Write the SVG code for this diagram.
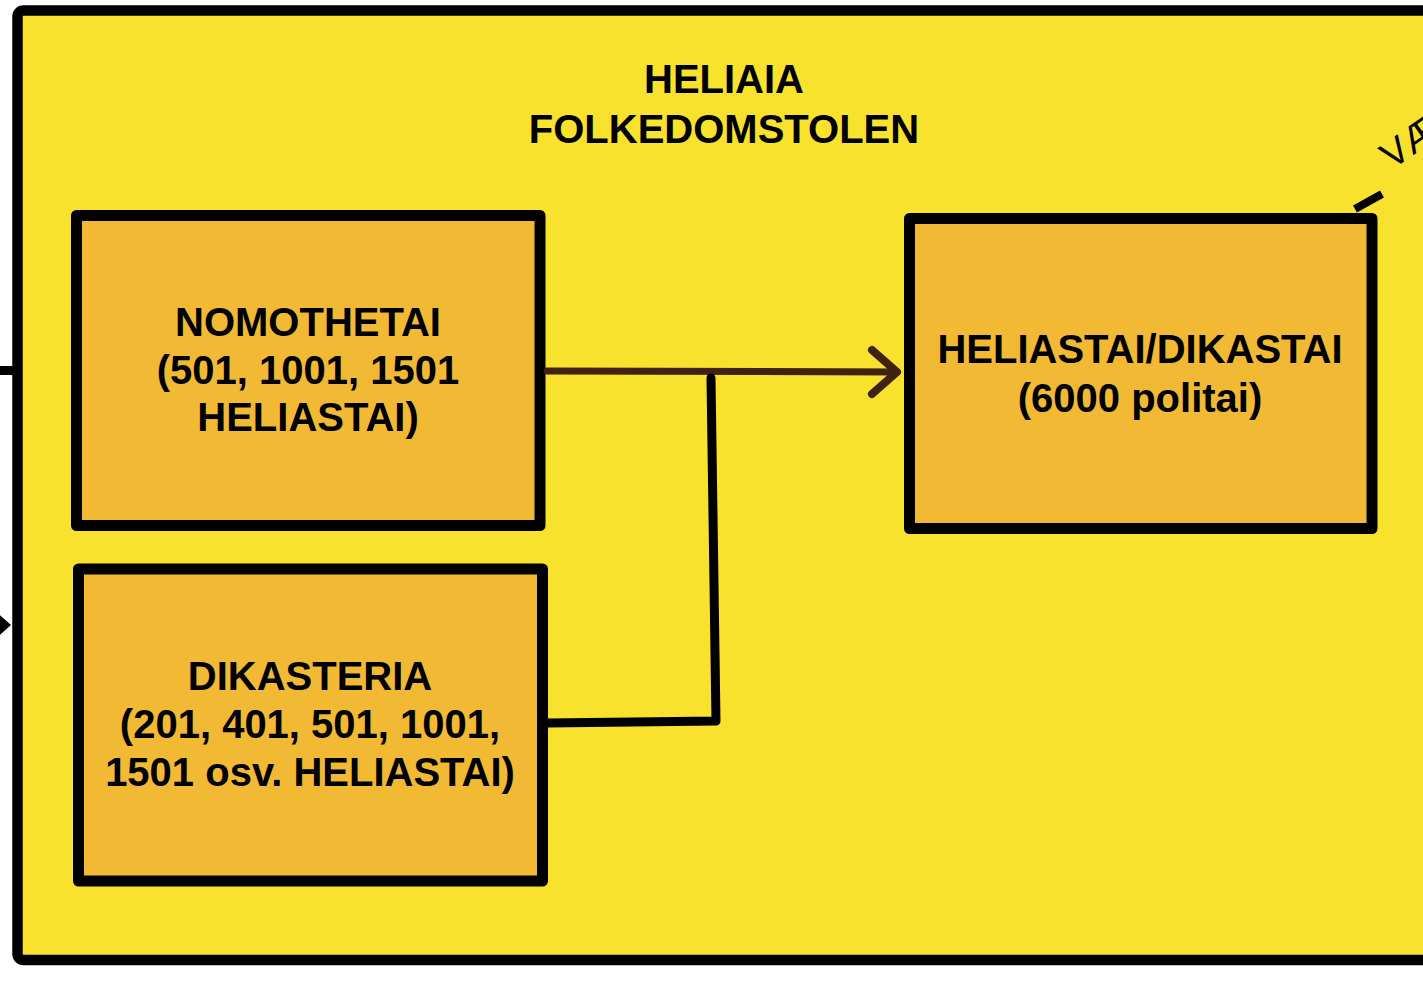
<svg xmlns="http://www.w3.org/2000/svg" width="1423" height="983" viewBox="0 0 1423 983">
<style>
.box{fill:#F2BA34;stroke:#000;stroke-width:11;stroke-linejoin:round}
.t{font-family:"Liberation Sans",Arial,sans-serif;font-weight:bold;font-size:40px;fill:#000;text-anchor:middle}
.c{fill:none;stroke-linecap:round;stroke-linejoin:round}
</style>
<rect x="0" y="0" width="1423" height="983" fill="#fff"/>
<g id="heliaia">
<rect x="17.5" y="10.5" width="1440" height="949.5" rx="6" fill="#F9E22E" stroke="#000" stroke-width="10.5"/>
<text class="t" x="724" y="93">HELIAIA</text>
<text class="t" x="724" y="143">FOLKEDOMSTOLEN</text>
</g>
<g id="nomothetai">
<rect class="box" x="76.5" y="215.5" width="463.5" height="310"/>
<text class="t" x="308" y="336">NOMOTHETAI</text>
<text class="t" x="308" y="384">(501, 1001, 1501</text>
<text class="t" x="308" y="431">HELIASTAI)</text>
</g>
<g id="dikasteria">
<rect class="box" x="78.5" y="569" width="464" height="312"/>
<text class="t" x="310" y="690">DIKASTERIA</text>
<text class="t" x="310" y="738">(201, 401, 501, 1001,</text>
<text class="t" x="310" y="786">1501 osv. HELIASTAI)</text>
</g>
<g id="heliastai">
<rect class="box" x="909.5" y="218.5" width="462.5" height="310"/>
<text class="t" x="1140" y="363">HELIASTAI/DIKASTAI</text>
<text class="t" x="1140" y="412">(6000 politai)</text>
</g>
<g id="connectors">
<path class="c" d="M547 371 L897 372" stroke="#3F2210" stroke-width="7"/>
<path class="c" d="M872 350 L897 372 L872 394" stroke="#3F2210" stroke-width="8"/>
<path class="c" d="M711 378 L716 721 L548 723" stroke="#000" stroke-width="9"/>
<path d="M1355 209 L1382 194" stroke="#000" stroke-width="8"/>
<path d="M0 370.5 L14 370.5" stroke="#000" stroke-width="9"/>
<polygon points="-6,610 11,625 -6,640" fill="#000"/>
<text x="1392" y="170" transform="rotate(-35 1392 170)" font-family="Liberation Sans,Arial,sans-serif" font-size="38" fill="#000">VÆ</text>
</g>
</svg>
